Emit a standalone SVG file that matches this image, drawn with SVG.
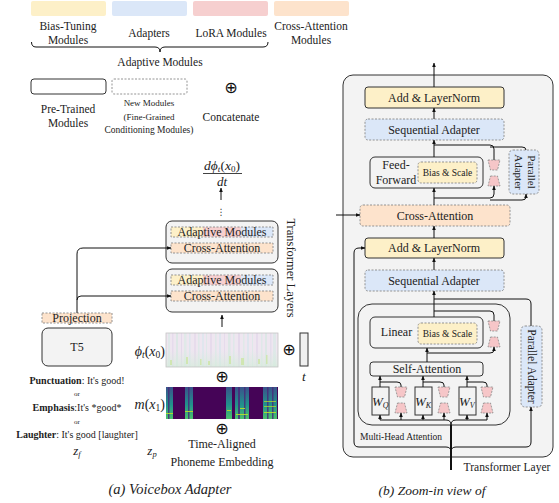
<svg xmlns="http://www.w3.org/2000/svg" width="559" height="503" viewBox="0 0 559 503">
<defs>
<marker id="ah" viewBox="0 0 6 6" refX="5.5" refY="3" markerWidth="4.5" markerHeight="4.5" orient="auto" markerUnits="userSpaceOnUse"><path d="M0,0.5 L6,3 L0,5.5 z" fill="#111"/></marker>
<linearGradient id="vir" x1="0" y1="0" x2="0" y2="1"><stop offset="0" stop-color="#3b528b"/><stop offset="0.55" stop-color="#21918c"/><stop offset="1" stop-color="#4cc26c"/></linearGradient>
<linearGradient id="pale" x1="0" y1="0" x2="0" y2="1"><stop offset="0" stop-color="#d7ecdf" stop-opacity="0"/><stop offset="1" stop-color="#d3ecd9" stop-opacity="0.7"/></linearGradient>
<polygon id="tu" points="-6,0 6,0 3.5,10 -3.5,10" fill="#f6c6c8" stroke="#888" stroke-width="0.8" stroke-dasharray="2 1.2"/>
<polygon id="td" points="-3.5,0 3.5,0 6,10 -6,10" fill="#f6c6c8" stroke="#888" stroke-width="0.8" stroke-dasharray="2 1.2"/>
</defs>
<style>
.t{font-family:"Liberation Serif","Times New Roman",serif;fill:#222}
.c{text-anchor:middle}
.i{font-style:italic}
.b{font-weight:bold}
.pre{fill:#f3f3f3;stroke:#333;stroke-width:1}
.new{stroke:#888;stroke-width:0.9;stroke-dasharray:2 1.5}
.yel{fill:#fdf0c8}.blu{fill:#dbe7f8}.pnk{fill:#f6cfcf}.org{fill:#fde3cc}
.ln{fill:none;stroke:#111;stroke-width:1}
.arr{marker-end:url(#ah)}
.op{font-family:"DejaVu Sans",sans-serif;font-size:16px;fill:#111;text-anchor:middle}
</style>
<rect width="559" height="503" fill="#fff"/>

<!-- Legend -->
<g id="legend">
<rect x="31" y="1" width="75" height="15" rx="2" class="yel"/>
<rect x="112" y="1" width="75" height="15" rx="2" class="blu"/>
<rect x="193" y="1" width="75" height="15" rx="2" class="pnk"/>
<rect x="274" y="1" width="75" height="15" rx="2" class="org"/>
<text class="t c" font-size="11.5" x="68" y="30">Bias-Tuning</text>
<text class="t c" font-size="11.5" x="68" y="44">Modules</text>
<text class="t c" font-size="11.5" x="149" y="37">Adapters</text>
<text class="t c" font-size="11.5" x="231" y="37">LoRA Modules</text>
<text class="t c" font-size="11.5" x="311" y="30">Cross-Attention</text>
<text class="t c" font-size="11.5" x="311" y="44">Modules</text>
<path class="ln" d="M31.5,42 Q31.5,47 36,47 H155 Q160,47 160,52 Q160,47 165,47 H263 Q268,47 268,42"/>
<text class="t c" font-size="11.5" x="160" y="66">Adaptive Modules</text>
<rect x="31" y="79" width="75" height="15" rx="3" class="pre" style="fill:#fff"/>
<rect x="112" y="79" width="75" height="15" rx="2" class="new" fill="#fff"/>
<text class="op" x="231" y="93">⊕</text>
<text class="t c" font-size="11.5" x="68" y="113">Pre-Trained</text>
<text class="t c" font-size="11.5" x="68" y="127">Modules</text>
<text class="t c" font-size="9" x="149" y="106">New Modules</text>
<text class="t c" font-size="9" x="149" y="120">(Fine-Grained</text>
<text class="t c" font-size="9.5" x="149" y="133">Conditioning Modules)</text>
<text class="t c" font-size="11.5" x="231" y="121">Concatenate</text>
</g>

<!-- Panel (a) -->
<g id="output-label">
<text class="t c" font-size="13.5" x="222" y="170"><tspan class="i">dϕ</tspan><tspan class="i" font-size="9" dy="2">t</tspan><tspan dy="-2">(</tspan><tspan class="i">x</tspan><tspan font-size="9" dy="2">0</tspan><tspan dy="-2">)</tspan></text>
<line x1="203" y1="173.5" x2="242" y2="173.5" stroke="#111" stroke-width="0.8"/>
<text class="t c i" font-size="13" x="222" y="186">dt</text>
<text font-family="DejaVu Sans,sans-serif" font-size="9" fill="#333" text-anchor="middle" x="221" y="215">⋮</text>
</g>

<g id="transformer-layer-upper">
<rect x="166" y="221" width="112" height="42" rx="6" class="pre"/>
<rect x="171" y="227" width="32" height="10" class="yel"/>
<rect x="203" y="227" width="38" height="10" class="pnk"/>
<rect x="241" y="227" width="32" height="10" class="blu"/>
<rect x="171" y="227" width="102" height="10" fill="none" class="new"/>
<text class="t c" font-size="12" x="222" y="236">Adaptive Modules</text>
<rect x="171" y="243" width="102" height="10" class="org new"/>
<text class="t c" font-size="12" x="222" y="252">Cross-Attention</text>
</g>
<g id="transformer-layer-lower">
<rect x="166" y="269" width="112" height="43" rx="6" class="pre"/>
<rect x="171" y="275" width="32" height="10" class="yel"/>
<rect x="203" y="275" width="38" height="10" class="pnk"/>
<rect x="241" y="275" width="32" height="10" class="blu"/>
<rect x="171" y="275" width="102" height="10" fill="none" class="new"/>
<text class="t c" font-size="12" x="222" y="284">Adaptive Modules</text>
<rect x="171" y="291" width="102" height="10" class="org new"/>
<text class="t c" font-size="12" x="222" y="300">Cross-Attention</text>
</g>
<text class="t c" font-size="12.5" transform="translate(287,268) rotate(90)">Transformer Layers</text>

<g id="projection">
<rect x="42" y="313" width="70" height="10" class="org new"/>
<text class="t c" font-size="12" x="77" y="322">Projection</text>
</g>
<g id="t5">
<rect x="42" y="328" width="70" height="38" rx="6" class="pre"/>
<text class="t c" font-size="12" x="77" y="351">T5</text>
</g>
<g id="text-prompts">
<text class="t c" font-size="10" x="77" y="384"><tspan class="b">Punctuation</tspan>: It's good!</text>
<text class="t c" font-size="7" x="77" y="396">or</text>
<text class="t c" font-size="10" x="77" y="411"><tspan class="b">Emphasis</tspan>:It's *good*</text>
<text class="t c" font-size="7" x="77" y="424">or</text>
<text class="t c" font-size="10" x="77" y="438"><tspan class="b">Laughter</tspan>: It's good [laughter]</text>
<text class="t c i" font-size="13" x="77" y="455">z<tspan font-size="8.5" dy="2">f</tspan></text>
<text class="t c i" font-size="13" x="152" y="455">z<tspan font-size="8.5" dy="2">p</tspan></text>
</g>

<g id="noisy-spectrogram">
<rect x="166" y="333" width="112" height="34" fill="#eee6f0"/>
<g opacity="0.55">
<rect x="168" y="333" width="2" height="34" fill="#d3ebe4"/><rect x="172" y="333" width="1.5" height="34" fill="#e0d3ea"/>
<rect x="176" y="333" width="2" height="34" fill="#d0e8df"/><rect x="181" y="333" width="1" height="34" fill="#dcd0e8"/>
<rect x="184" y="333" width="2.5" height="34" fill="#d5ece2"/><rect x="189" y="333" width="1.5" height="34" fill="#d0e6ec"/>
<rect x="194" y="333" width="2" height="34" fill="#e2d4ea"/><rect x="198" y="333" width="1.5" height="34" fill="#d3ebe4"/>
<rect x="202" y="333" width="2" height="34" fill="#d6e7ee"/><rect x="206" y="333" width="1" height="34" fill="#d3ebe4"/>
<rect x="210" y="333" width="2" height="34" fill="#e1d3e9"/><rect x="215" y="333" width="1.5" height="34" fill="#d3ebe4"/>
<rect x="219" y="333" width="2" height="34" fill="#d2e5ee"/><rect x="224" y="333" width="1" height="34" fill="#e0d3ea"/>
<rect x="228" y="333" width="2.5" height="34" fill="#d0e8df"/><rect x="233" y="333" width="1.5" height="34" fill="#d3ebe4"/>
<rect x="238" y="333" width="2" height="34" fill="#dcd0e8"/><rect x="243" y="333" width="1.5" height="34" fill="#d6ece2"/>
<rect x="247" y="333" width="2" height="34" fill="#d2e5ee"/><rect x="252" y="333" width="1" height="34" fill="#d3ebe4"/>
<rect x="256" y="333" width="2" height="34" fill="#e0d3ea"/><rect x="261" y="333" width="1.5" height="34" fill="#d3ebe4"/>
<rect x="265" y="333" width="2" height="34" fill="#d0e8df"/><rect x="270" y="333" width="1.5" height="34" fill="#dcd6ea"/>
<rect x="273" y="333" width="3" height="34" fill="#d3ebe4"/>
</g>
<rect x="166" y="350" width="112" height="17" fill="url(#pale)"/>
<g fill="#cde6a6" opacity="0.8">
<rect x="170" y="360" width="2" height="5"/><rect x="186" y="357" width="2" height="7"/><rect x="200" y="359" width="1.5" height="6"/>
<rect x="208" y="361" width="2" height="4"/><rect x="229" y="356" width="2" height="8"/><rect x="241" y="358" width="3" height="7"/>
<rect x="258" y="359" width="2" height="5"/><rect x="266" y="355" width="1.5" height="9"/>
</g>
<rect x="166" y="333" width="112" height="34" fill="none" stroke="#c4c4c4" stroke-width="0.8"/>
<text class="t" font-size="14" x="165" y="356" text-anchor="end"><tspan class="i">ϕ</tspan><tspan class="i" font-size="9.5" dy="2">t</tspan><tspan dy="-2">(</tspan><tspan class="i">x</tspan><tspan font-size="9.5" dy="2">0</tspan><tspan dy="-2">)</tspan></text>
</g>
<g id="time-embedding">
<text class="op" x="289" y="355">⊕</text>
<rect x="300" y="333" width="8" height="33" fill="#f0f0f0" stroke="#333" stroke-width="1"/>
<text class="t c i" font-size="13.5" x="304" y="381">t</text>
</g>
<text class="op" x="222" y="382">⊕</text>
<g id="masked-spectrogram">
<rect x="166" y="387" width="112" height="32" fill="#450457"/>
<rect x="166" y="387" width="7" height="32" fill="url(#vir)"/>
<rect x="185" y="387" width="8" height="32" fill="url(#vir)"/>
<rect x="226" y="387" width="6" height="32" fill="url(#vir)"/>
<rect x="235" y="387" width="14" height="32" fill="url(#vir)"/>
<rect x="263" y="387" width="14" height="32" fill="url(#vir)"/>
<g fill="#472d7b" opacity="0.85">
<rect x="168" y="387" width="1.5" height="32"/><rect x="188" y="387" width="1.5" height="32"/><rect x="238" y="387" width="2" height="32"/><rect x="244" y="387" width="1.5" height="32"/><rect x="267" y="387" width="1.5" height="32"/><rect x="272" y="387" width="1.5" height="32"/>
</g>
<g fill="#b8de29" opacity="0.9">
<rect x="166" y="413" width="7" height="1"/><rect x="185" y="411" width="8" height="1"/><rect x="236" y="414" width="12" height="1"/><rect x="240" y="408" width="5" height="1"/><rect x="264" y="412" width="12" height="1"/><rect x="264" y="406" width="12" height="0.8"/><rect x="264" y="401" width="12" height="0.8"/>
<rect x="227" y="410" width="4" height="1"/>
</g>
<text class="t" font-size="14" x="165" y="409" text-anchor="end"><tspan class="i">m</tspan>(<tspan class="i">x</tspan><tspan font-size="9.5" dy="2">1</tspan><tspan dy="-2">)</tspan></text>
</g>
<g id="phoneme-embedding">
<text class="op" x="222" y="434">⊕</text>
<text class="t c" font-size="12" x="222" y="448">Time-Aligned</text>
<text class="t c" font-size="12" x="222" y="466">Phoneme Embedding</text>
</g>
<text class="t c i" font-size="14.5" x="170" y="494">(a) Voicebox Adapter</text>

<!-- Panel (b) -->
<g id="transformer-layer-box">
<rect x="343" y="75" width="210" height="382" rx="10" class="pre"/>
<text class="t c" font-size="11.5" x="507" y="471">Transformer Layer</text>
</g>
<g id="add-norm-top">
<rect x="365" y="87" width="139" height="21" rx="3" class="yel" stroke="#333" stroke-width="1"/>
<text class="t c" font-size="12" x="434" y="102">Add &amp; LayerNorm</text>
</g>
<g id="seq-adapter-top">
<rect x="365" y="119" width="139" height="21" rx="3" class="blu new"/>
<text class="t c" font-size="12" x="434" y="134">Sequential Adapter</text>
</g>
<g id="feed-forward">
<rect x="370" y="157" width="113" height="31" rx="5" class="pre"/>
<text class="t c" font-size="12" x="396" y="169">Feed-</text>
<text class="t c" font-size="12" x="396" y="184">Forward</text>
<rect x="418" y="162" width="59" height="21" rx="3" class="yel new"/>
<text class="t c" font-size="9.5" x="447.5" y="176">Bias &amp; Scale</text>
</g>
<g id="lora-ff">
<use href="#tu" x="494" y="160"/>
<use href="#td" x="494" y="176"/>
</g>
<g id="parallel-adapter-top">
<rect x="509" y="150" width="30" height="44" rx="4" class="blu new"/>
<text class="t c" font-size="11" transform="translate(528,172) rotate(90)">Parallel</text>
<text class="t c" font-size="11" transform="translate(514.5,172) rotate(90)">Adapter</text>
</g>
<g id="cross-attention">
<rect x="360" y="205" width="150" height="21" rx="3" class="org new"/>
<text class="t c" font-size="12" x="435" y="220">Cross-Attention</text>
</g>
<g id="add-norm-bottom">
<rect x="365" y="238" width="139" height="20" rx="3" class="yel" stroke="#333" stroke-width="1"/>
<text class="t c" font-size="12" x="434" y="252">Add &amp; LayerNorm</text>
</g>
<g id="seq-adapter-bottom">
<rect x="365" y="270" width="139" height="21" rx="3" class="blu new"/>
<text class="t c" font-size="12" x="434" y="285">Sequential Adapter</text>
</g>
<g id="parallel-adapter-bottom">
<rect x="521" y="326" width="21" height="81" rx="4" class="blu new"/>
<text class="t c" font-size="11.5" transform="translate(527.5,366.5) rotate(90)">Parallel Adapter</text>
</g>
<g id="multi-head-attention">
<rect x="358" y="304" width="152" height="121" rx="14" class="pre"/>
<text class="t c" font-size="9.5" x="401" y="440">Multi-Head Attention</text>
</g>
<g id="linear">
<rect x="370" y="317" width="113" height="31" rx="5" class="pre"/>
<text class="t c" font-size="12" x="396.5" y="336">Linear</text>
<rect x="418" y="323" width="59" height="21" rx="3" class="yel new"/>
<text class="t c" font-size="9.5" x="447.5" y="337">Bias &amp; Scale</text>
</g>
<g id="lora-linear">
<use href="#tu" x="494" y="321"/>
<use href="#td" x="494" y="337"/>
</g>
<g id="self-attention">
<rect x="370" y="362" width="113" height="14" rx="3" class="pre"/>
<text class="t c" font-size="12" x="427" y="373">Self-Attention</text>
</g>
<g id="wq">
<rect x="372" y="387" width="17" height="28" class="pre"/>
<text class="t i" font-size="13" x="372" y="406">W<tspan font-size="8" dy="2">Q</tspan></text>
</g>
<g id="wk">
<rect x="415" y="387" width="17" height="28" class="pre"/>
<text class="t i" font-size="13" x="415" y="406">W<tspan font-size="8" dy="2">K</tspan></text>
</g>
<g id="wv">
<rect x="459" y="387" width="17" height="28" class="pre"/>
<text class="t i" font-size="13" x="459" y="406">W<tspan font-size="8" dy="2">V</tspan></text>
</g>
<g id="lora-qkv">
<use href="#tu" x="401" y="387"/><use href="#td" x="401" y="403"/>
<use href="#tu" x="444" y="387"/><use href="#td" x="444" y="403"/>
<use href="#tu" x="487" y="387"/><use href="#td" x="487" y="403"/>
</g>

<!-- Connectors -->
<g id="connectors" class="ln">
<path class="arr" d="M221,200 V188"/>
<path class="arr" d="M222,327 V315"/>
<path class="arr" d="M77,313 V254 Q77,248 83,248 H171"/>
<path class="arr" d="M77,300 Q77,296 81,296 H171"/>

<path class="arr" d="M434,87 V63"/>
<path class="arr" d="M434,119 V108"/>
<path class="arr" d="M434,157 V140"/>
<path d="M434,145 H490 Q494,145 494,149 V160"/>
<path d="M490,147 H522 Q526,147 526,150"/>
<path class="arr" d="M434,205 V188"/>
<path class="arr" d="M434,198 H490 Q494,198 494,194 V186"/>
<path class="arr" d="M490,200 H522 Q526,200 526,197 V194"/>
<path class="arr" d="M336,215 H360"/>
<path class="arr" d="M434,238 V226"/>
<path class="arr" d="M434,270 V258"/>
<path class="arr" d="M434,317 V291"/>
<path d="M531,326 V304 Q531,299 526,299 H434"/>
<path d="M434,311 H490 Q494,311 494,315 V321"/>
<path class="arr" d="M427,362 V348"/>
<path class="arr" d="M427,353 H490 Q494,353 494,350 V347"/>
<path class="arr" d="M380,387 V376"/>
<path class="arr" d="M423,387 V376"/>
<path class="arr" d="M467,387 V376"/>
<path d="M380,382 H397 Q401,382 401,385 V387"/>
<path d="M423,382 H440 Q444,382 444,385 V387"/>
<path d="M467,382 H483 Q487,382 487,385 V387"/>
<path d="M380,420 H446 Q451,420 451,425 Q451,420 456,420 H487"/>
<path class="arr" d="M380,420 V415"/>
<path class="arr" d="M401,420 V413"/>
<path class="arr" d="M423,420 V415"/>
<path class="arr" d="M444,420 V413"/>
<path class="arr" d="M467,420 V415"/>
<path class="arr" d="M487,420 V413"/>
<path d="M451,470 V425" stroke-width="2"/>
<path class="arr" d="M451,452 Q451,447 446,447 H359 Q354,447 354,442 V253 Q354,248 359,248 H365"/>
<path class="arr" d="M451,452 Q451,447 456,447 H526 Q531,447 531,442 V407"/>
</g>
<text class="t c i" font-size="13.5" x="432" y="495">(b) Zoom-in view of</text>
</svg>
